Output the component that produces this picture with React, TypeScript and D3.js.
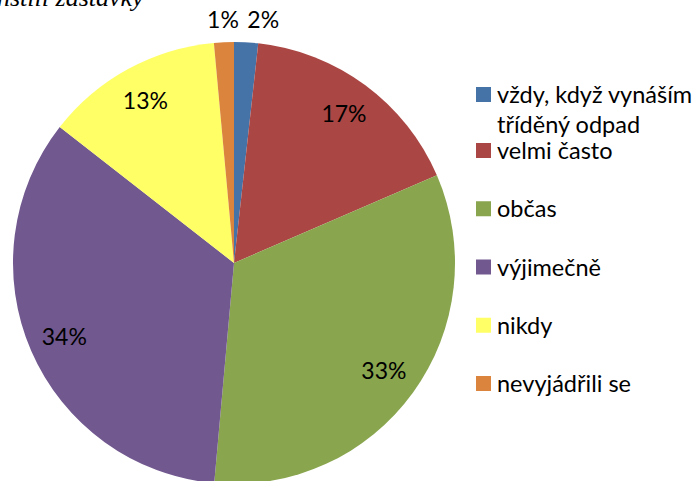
import React, { useEffect, useRef } from 'react';
import * as d3 from 'd3';

// Slice categories, values (percent) and colours
const categories = [
  'vždy, když vynáším tříděný odpad',
  'velmi často',
  'občas',
  'výjimečně',
  'nikdy',
  'nevyjádřili se',
];
const values = [1.75, 16.75, 32.9, 34.1, 13, 1.45];
const colors = ['#4572A7', '#AA4643', '#89A54E', '#71588F', '#FFFF66', '#DB843D'];
// legend lines (first entry wraps on two lines)
const legendLines = [
  ['vždy, když vynáším', 'tříděný odpad'],
  ['velmi často'],
  ['občas'],
  ['výjimečně'],
  ['nikdy'],
  ['nevyjádřili se'],
];

const W = 699;
const H = 481;

const App = () => {
  const ref = useRef(null);

  useEffect(() => {
    const svg = d3.select(ref.current);
    svg.selectAll('*').remove();

    // clipped line of the surrounding document text
    svg.append('text')
      .attr('x', -3)
      .attr('y', 6)
      .attr('font-family', 'Liberation Serif')
      .attr('font-style', 'italic')
      .attr('font-size', 26)
      .text('nstili zastávky');

    const cx = 234;
    const cy = 263;
    const radius = 221;

    const pie = d3.pie().value(d => d).sort(null);
    const arcs = pie(values);
    const arc = d3.arc().innerRadius(0).outerRadius(radius);
    const labelArc = d3.arc().innerRadius(185).outerRadius(185);
    const outArc = d3.arc().innerRadius(243).outerRadius(243);

    const g = svg.append('g').attr('transform', `translate(${cx},${cy})`);

    g.selectAll('path')
      .data(arcs)
      .enter()
      .append('path')
      .attr('d', arc)
      .attr('fill', (d, i) => colors[i])
      .attr('stroke', 'none');

    // percentage labels: big slices inside, tiny ones outside the rim
    g.selectAll('text.lbl')
      .data(arcs)
      .enter()
      .append('text')
      .attr('class', 'lbl')
      .each(function (d) {
        const small = d.endAngle - d.startAngle < 0.2;
        const [x, y] = small ? outArc.centroid(d) : labelArc.centroid(d);
        const right = (d.startAngle + d.endAngle) / 2 < Math.PI;
        d3.select(this)
          .attr('x', x)
          .attr('y', y)
          .attr('text-anchor', small && right ? 'start' : 'middle');
      })
      .attr('dy', '0.35em')
      .attr('font-family', 'Lato')
      .attr('font-size', 23)
      .attr('fill', '#000')
      .text(d => `${Math.round(d.data)}%`);

    // legend
    const legendY = d3.scaleLinear().domain([1, 5]).range([159, 392]);
    const lg = svg.append('g');
    categories.forEach((c, i) => {
      const base = i === 0 ? legendY(1) - 56 : legendY(i);
      lg.append('rect')
        .attr('x', 476)
        .attr('y', base - 16)
        .attr('width', 15)
        .attr('height', 15)
        .attr('fill', colors[i]);
      legendLines[i].forEach((line, j) => {
        lg.append('text')
          .attr('x', 497)
          .attr('y', base + j * 30)
          .attr('font-family', 'Lato')
          .attr('font-size', 23.5)
          .attr('fill', '#000')
          .text(line);
      });
    });
  }, []);

  return (
    <svg
      ref={ref}
      width={W}
      height={H}
      style={{ position: 'absolute', left: 0, top: 0, background: '#fff' }}
    ></svg>
  );
};

export default App;
